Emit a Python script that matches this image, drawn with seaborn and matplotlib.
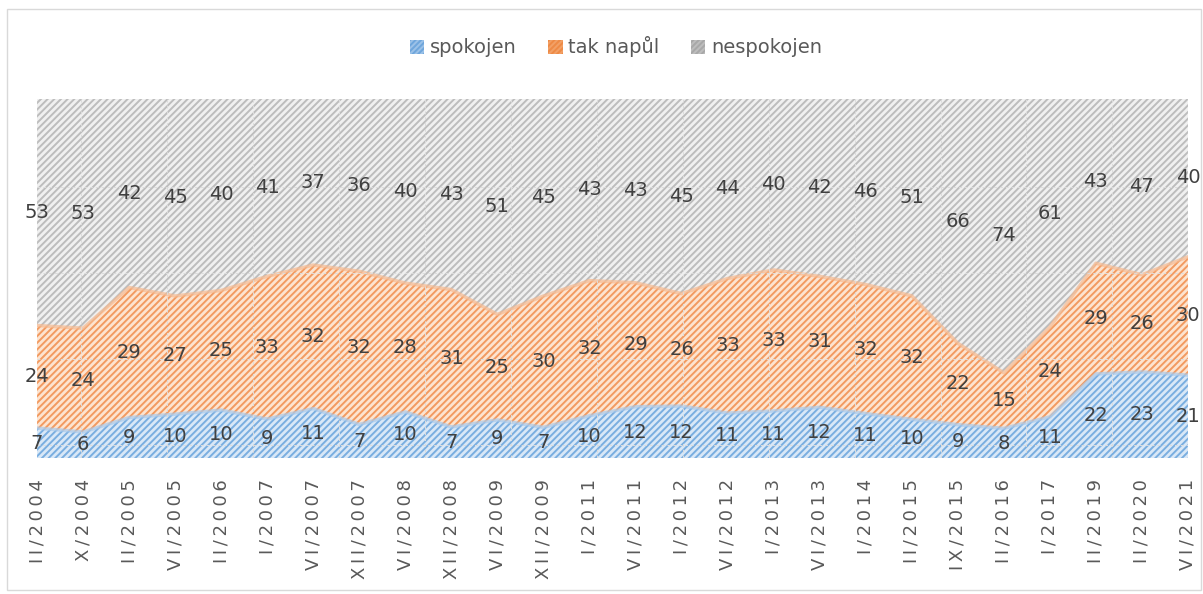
import numpy as np
import pandas as pd
import matplotlib
matplotlib.use('Agg')
import matplotlib.pyplot as plt
import seaborn as sns
from matplotlib.patches import Patch, Rectangle

# data
terms = ['II/2004', 'X/2004', 'II/2005', 'VI/2005', 'II/2006', 'I/2007', 'VI/2007',
         'XII/2007', 'VI/2008', 'XII/2008', 'VI/2009', 'XII/2009', 'I/2011', 'VI/2011',
         'I/2012', 'VI/2012', 'I/2013', 'VI/2013', 'I/2014', 'II/2015', 'IX/2015',
         'II/2016', 'I/2017', 'II/2019', 'II/2020', 'VI/2021']
spokojen = [7, 6, 9, 10, 10, 9, 11, 7, 10, 7, 9, 7, 10, 12, 12, 11, 11, 12, 11, 10, 9, 8, 11, 22, 23, 21]
tak_napul = [24, 24, 29, 27, 25, 33, 32, 32, 28, 31, 25, 30, 32, 29, 26, 33, 33, 31, 32, 32, 22, 15, 24, 29, 26, 30]
nespokojen = [53, 53, 42, 45, 40, 41, 37, 36, 40, 43, 51, 45, 43, 43, 45, 44, 40, 42, 46, 51, 66, 74, 61, 43, 47, 40]

series = ['spokojen', 'tak napůl', 'nespokojen']
df = pd.DataFrame({'spokojen': spokojen, 'tak napůl': tak_napul, 'nespokojen': nespokojen}, index=terms)

# 100% skládaný graf
share = df.div(df.sum(axis=1), axis=0)
top = share.cumsum(axis=1)
bottom = top - share

fills = {'spokojen': '#d9e8f7', 'tak napůl': '#fde4d0', 'nespokojen': '#f0f0f0'}
hatches = {'spokojen': '#7aaee0', 'tak napůl': '#f29a60', 'nespokojen': '#bdbdbd'}
edges = {'spokojen': '#a9c9ea', 'tak napůl': '#f6b98f', 'nespokojen': '#d4d4d4'}
legend_fill = {'spokojen': '#9cc2e8', 'tak napůl': '#f2a066', 'nespokojen': '#bdbdbd'}
legend_hatch = {'spokojen': '#6fa6dc', 'tak napůl': '#ee8a45', 'nespokojen': '#a8a8a8'}

sns.set_style('white')
plt.rcParams['font.family'] = ['DejaVu Sans']
plt.rcParams['hatch.linewidth'] = 1.4

fig = plt.figure(figsize=(12.03, 5.94), dpi=100)
ax = fig.add_axes([0.0308, 0.229, 0.9567, 0.6043])
x = np.arange(len(terms))

for s in series:
    ax.fill_between(x, bottom[s], top[s], facecolor=fills[s], edgecolor=hatches[s],
                    hatch='/////', linewidth=0, zorder=1)
    line = pd.DataFrame({'x': x, 'y': top[s].values})
    if s != 'nespokojen':
        sns.lineplot(data=line, x='x', y='y', ax=ax, color=edges[s], linewidth=2.5,
                     alpha=0.7, zorder=2)

# mřížka
for k in range(15):
    fx = 0.038 + 0.0747 * k
    if fx < 1:
        ax.plot([fx, fx], [0, 1], transform=ax.transAxes, color='#dcdcdc',
                linestyle=(0, (3, 3)), linewidth=0.7, zorder=3)
for k in range(4):
    fy = 0.036 + 0.2396 * k
    ax.plot([0, 1], [fy, fy], transform=ax.transAxes, color='#dcdcdc',
            linestyle=(0, (3, 3)), linewidth=0.7, zorder=3)

# popisky hodnot
for s in series:
    mid = (bottom[s] + top[s]) / 2
    for i, v in enumerate(df[s]):
        ax.text(x[i], mid.iloc[i], str(v), ha='center', va='center', fontsize=14,
                color='#404040', zorder=4)

ax.set_xlim(0, len(terms) - 1)
ax.set_ylim(0, 1)
ax.set_yticks([])
ax.set_xticks(x)
ax.set_xticklabels(['\u2009'.join(t) for t in terms], rotation=90, fontsize=13,
                   color='#595959')
ax.tick_params(axis='x', length=0, pad=15)
ax.set_xlabel('')
ax.set_ylabel('')
for sp in ax.spines.values():
    sp.set_visible(False)

handles = [Patch(facecolor=legend_fill[s], edgecolor=legend_hatch[s], hatch='//////', linewidth=0)
           for s in series]
fig.legend(handles, series, loc='center', bbox_to_anchor=(0.512, 0.921), ncol=3, frameon=False,
           fontsize=14, labelcolor='#595959', handlelength=0.75, handleheight=0.75,
           handletextpad=0.3, columnspacing=1.6)

fig.add_artist(Rectangle((7 / 1203, 4 / 594), 1194 / 1203, 581 / 594, transform=fig.transFigure,
                         fill=False, edgecolor='#d9d9d9', linewidth=1))

fig.savefig('out.png', dpi=100)
